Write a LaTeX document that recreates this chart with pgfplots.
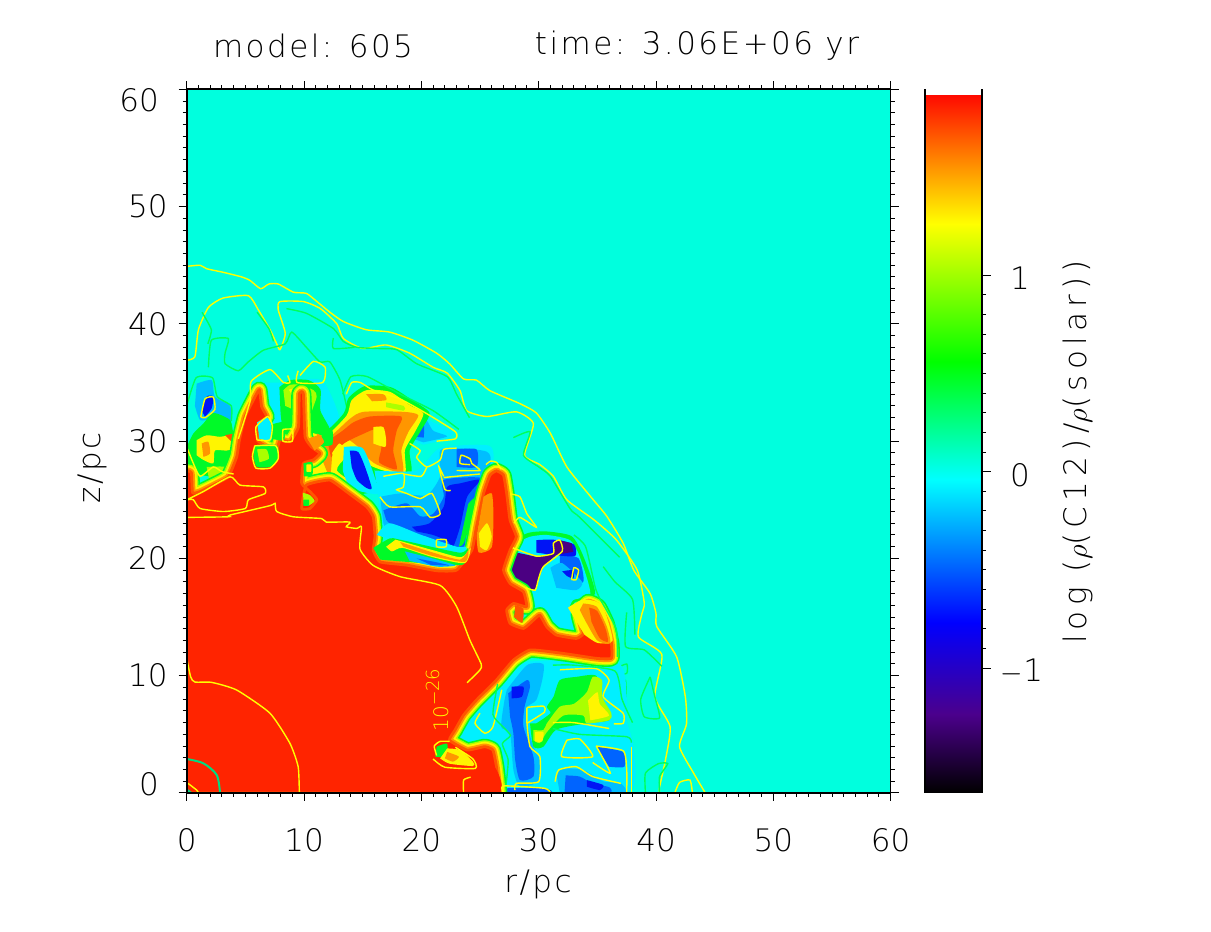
\documentclass[border=0pt]{standalone}
\usepackage{fontspec}
\setmainfont{DejaVu Sans ExtraLight}
\newfontfamily\spaced[LetterSpace=8]{DejaVu Sans ExtraLight}
\newfontfamily\spacedb[LetterSpace=17]{DejaVu Sans ExtraLight}
\usepackage{pgfplots}
\pgfplotsset{compat=1.18}

\definecolor{bgc}{RGB}{0,255,222}
\definecolor{cya}{RGB}{0,240,255}
\definecolor{sky}{RGB}{0,190,255}
\definecolor{mid}{RGB}{0,100,255}
\definecolor{blu}{RGB}{0,20,245}
\definecolor{pur}{RGB}{75,0,130}
\definecolor{grn}{RGB}{0,250,40}
\definecolor{lim}{RGB}{170,255,0}
\definecolor{yel}{RGB}{255,245,0}
\definecolor{org}{RGB}{255,150,0}
\definecolor{dor}{RGB}{255,85,0}
\definecolor{cor}{RGB}{255,36,0}
\definecolor{cy}{RGB}{255,255,0}
\definecolor{cg}{RGB}{0,255,90}
\definecolor{ct}{RGB}{0,220,130}

% red core outline, r and z in pc
\pgfplotstableread{
r z
0 0
0 25.0
0 27.4
0.4 27.3
0.5 25.6
1.14 25.7
2.27 26.25
3.55 26.96
4.26 28.66
4.49 30.08
4.97 32.07
5.68 33.5
6.19 34.4
6.39 32.93
6.82 32.07
6.11 31.5
6.02 30.08
6.82 29.5
7.6 28.95
7.39 28.1
7.95 30.08
8.8 29.94
9.52 31.2
9.6 34.06
9.94 34.06
10.09 30.37
10.65 29.5
11.36 28.95
10.8 28.4
9.94 28.1
9.8 26.4
10.5 25.7
11.1 25
10.5 24.26
9.8 24.26
10.2 26.25
12.2 26.68
13.64 25.68
15.34 24.4
15.9 23.55
16.05 21.85
15.9 20.7
16.48 19.7
18.75 19.43
21.3 18.95
23 19
24.3 20.7
24.7 22.7
25.3 25.54
25.85 27.1
26.4 27.47
27 27.1
27.27 25.54
27.56 23.27
28.1 21.85
27.56 20.7
27 19
27.56 17.87
28.7 17.16
28.98 15.88
27.86 16.16
27.27 15.6
27.56 14.46
28.7 14.03
29.55 14.74
30.1 15.17
30.68 14.18
31.5 13.47
33.2 13.18
33.8 13.6
33.4 15.3
34.2 16.3
35.1 15.88
35.8 14.46
36.2 12.76
36.2 11.48
34.9 11.48
32.1 11.9
29.3 12.2
27.84 11.33
26.4 9.63
24.7 7.93
23.6 6.65
22.87 5.37
22.4 4.5
23.9 3.66
25.4 3.95
26.1 3.66
26.4 2.24
26.65 0
}\corepts

\newcommand{\patch}[2]{\addplot[fill=#1,draw=none,smooth,tension=0.4] coordinates {#2};}
\newcommand{\cont}[2]{\addplot[draw=#1,line width=0.7pt,smooth,tension=0.35] coordinates {#2};}

\begin{document}
\begin{tikzpicture}[x=1pt,y=1pt]
\path (0,0) rectangle (605.5,466);

\begin{axis}[
  at={(93.35pt,69.5pt)}, anchor=south west,
  scale only axis, width=352pt, height=351.85pt,
  xmin=0, xmax=60, ymin=0, ymax=60,
  xtick={0,10,...,60}, ytick={0,10,...,60},
  xticklabels={0,10,20,30,40,50,60},
  yticklabels={,10,20,30,40,50,},
  minor x tick num=9, minor y tick num=9,
  tick align=outside, major tick length=4pt, minor tick length=2pt,
  tick style={black,line width=0.5pt},
  xtick pos=both, ytick pos=both,
  xticklabel pos=bottom, yticklabel pos=left,
  axis line style={line width=0.8pt},
  axis on top,
  tick label style={font=\fontsize{15.5}{16}\selectfont},
  xticklabel style={yshift=-10pt},
  yticklabel style={xshift=-2pt},
  axis background/.style={fill=bgc},
]

% outer contours
\cont{cy}{(0,44.9)(1.14,45)(1.7,44.7)(3.1,44.4)(4.7,44)(5.4,43.7)(6.3,43)(7,43.4)(7.8,43.4)(9.1,42.7)(10.2,42.6)(11.1,41.9)(12.2,41)(13.35,40.2)(15.3,39.5)(17.3,39.3)(19.3,38.6)(21.3,37.5)(22.4,36.6)(23.6,35.3)(24.7,35.2)(25.85,34.3)(28.4,33.2)(29.8,32.4)(31,30.66)(32.4,27.8)(34.4,25.3)(35.8,23.6)(37.2,21.3)(38.1,19)(39.5,17)(40,15.3)(40.06,14.2)(41.76,11.6)(42.5,8.2)(42.6,5.9)(42,3.95)(43.2,1.7)(44.2,0)}
\cont{cy}{(0,36.9)(0.7,37.2)(1,39.5)(1.85,41.4)(3.1,42.2)(5.26,42.4)(6.1,41.2)(7.1,39.5)(7.67,38.3)(7.95,37.8)(8.4,39.2)(7.8,41.2)(7.95,41.9)(9.94,41.9)(11.4,41.3)(12.8,40)(13.35,38.75)(15,37.9)(17,38.2)(19,37.5)(21,36.3)(22.2,35.8)(23.3,34.3)(23.86,32.6)(25.6,32.1)(28.1,32.5)(29.55,31.5)(28.8,28.8)(30.1,28)(31.25,27)(32.4,25)(34.7,23.3)(36.6,21.6)(38.4,19)(39,16.2)(38.8,15.3)(38.5,13.3)(40.5,11.8)(39.9,8.2)(41.2,5.65)(40.8,2.8)(40.3,0.5)(40.3,0)}
\cont{cy}{(41.6,0)(42,0.9)(42.9,1.1)(43.1,0)}
\cont{cg}{(1.85,36.3)(2.1,38.6)(3.55,38.75)(3.27,37.5)(3.27,36.6)(4.4,36)(5.25,36.76)(6.53,37.75)(8.4,38.3)(8.95,39.3)(10.2,38)(11.36,36.76)(12.2,36.76)(13.07,35.2)(13.64,32.9)}
\cont{cg}{(8.5,41.3)(10.2,40.9)(12.5,39.6)(13.35,38.5)(14.5,38)(16.2,37.9)(17.9,37.8)(19.6,36.6)(22.2,35.5)(23,34)(24.1,32)}
\cont{cg}{(1.3,41)(2.1,39.5)(1.8,38.3)}
\cont{cg}{(6,41)(7,39.6)(7.4,38.5)}
\cont{cg}{(12.5,38.8)(12.5,37.9)(14.3,38)}
\cont{cg}{(27.84,30.3)(29.26,30.8)(28.7,28.8)(30,27.8)(31,27)(32.7,24.2)(33.5,23.5)(36.9,20.1)}
\cont{cg}{(35.5,19.3)(36.5,18)(38,16.5)(38.2,13.5)}
\cont{cg}{(37.5,15.4)(37.4,12.5)(39,12.2)(40.5,10.8)}
\cont{cg}{(39.5,9.9)(38.7,8)(39,6.5)(40.3,6.4)(39.9,8.2)(39.5,9.9)}
\cont{cg}{(39.1,0)(39.1,1.7)(40.2,2.5)(41,2.5)(40.3,1.4)(40.3,0)}
\cont{cg}{(36.5,10.6)(37.5,11)(37.5,10.2)(36.5,10.1)(36.5,10.6)}
\cont{cg}{(36.7,9.6)(37.4,9.6)(37.4,8)(36.7,8.2)(36.7,9.6)}

% disturbed shell, upper left
\patch{cya}{(8.3,35)(11.5,35.2)(13,32)(12,30.6)(10,30)(8,31)(6.5,33)(6.5,35)}
\patch{sky}{(.85,34.9)(2.13,35.2)(2.4,33.8)(3.7,33)(3.7,31.5)(2.84,30.9)(1.99,31.8)(1.14,31.8)(0.7,33)}
\patch{blu}{(1.28,32.6)(1.7,33.8)(2.27,33.8)(2.13,32.8)(1.56,32.07)}
\patch{grn}{(0,29.5)(.57,30.65)(1.42,31.5)(2.27,32.4)(3.7,31.8)(4,30.65)(4.55,31.2)(4.83,28.1)(4,27.2)(2.27,26.96)(.57,27.24)(0,27.24)}
\patch{yel}{(0.85,30.08)(1.7,30.5)(2.84,30.37)(3.97,30.5)(4.26,29.5)(3.4,29.2)(2.4,29.2)(2.27,28.1)(1.42,28.4)(.85,28.8)}
\patch{org}{(1.28,29.8)(1.85,29.94)(1.99,28.95)(1.42,28.66)}
\patch{dor}{(3.27,30.5)(4.26,30.65)(4.4,30.08)(3.84,29.94)}
\patch{lim}{(1.7,27.8)(3.4,27.8)(3.4,27)(1.9,26.8)}
\patch{grn}{(7.9,34.6)(8.8,35.2)(10.4,35.2)(11.4,34.4)(11.4,32.6)(12.3,30.6)(10.5,29)(8.4,30.4)(8,32.4)}
\patch{lim}{(8.24,34.35)(8.8,34.8)(9.66,34.8)(10.8,34.35)(11.08,33.8)(10.5,32.07)(10.2,30.4)(9.52,31.2)(9.1,32.6)(8.4,33)}
\patch{yel}{(8.7,34.4)(9.9,34.6)(10.4,34)(10.2,32.5)(9.4,33.2)}

% orange blob
\patch{cya}{(19,30.2)(20.17,32.07)(21,31.6)(22.7,30.8)(22.2,30.2)(20.17,29.7)}
\patch{sky}{(19,30.3)(20.17,32.07)(21,30.9)(22.2,30.4)(20.17,29.9)}
\patch{mid}{(19.3,30.4)(20.2,31.4)(20.2,30.3)}
\patch{grn}{(10,30.6)(11.9,30.9)(13.4,32.4)(13.8,33.7)(15.2,34.7)(17.4,34.6)(19.2,33.5)(20.7,32.4)(19.9,30.8)(19,29.2)(19,27)(15,25.5)(10,26)}
\patch{yel}{(10.5,30.8)(11.9,30.5)(13.64,32.2)(14.06,33.5)(15.34,34.35)(17.33,34.2)(19,33.07)(20.17,32.36)(19.46,30.8)(18.6,29.23)(18.6,27.24)(16.76,27.5)(15.34,28.1)(14.77,29.2)(13.64,28.66)(12.8,27.5)(14.5,26)(9.94,26.4)(9.94,29.2)}
\patch{org}{(11.08,30.65)(12.2,30.4)(13.9,31.9)(15.06,32.5)(18.47,32.5)(19.74,32.2)(18.9,30.8)(18.3,29.23)(18.4,27.3)(16.2,28)(15.34,28.66)(14.63,29.5)(13.35,30.37)(12.5,29.5)(12.2,27)(11.36,28.95)}
\patch{org}{(15.3,34)(16.76,34)(17,33.5)(15.8,33.4)}
\patch{lim}{(17,33.3)(18.5,33)(18.5,32.6)(17,32.9)}
\patch{dor}{(12,30)(13.3,30.9)(14.2,31.6)(15.6,32.1)(18.3,32.1)(17.9,30.9)(17.6,29.2)(17.9,27.6)(16.4,28.2)(16.6,29.5)(16.2,31)(15,30.6)(13.4,29.8)(12.3,28.6)}
\patch{yel}{(15.9,31.2)(16.76,31.2)(17,30.1)(16.9,29.5)(15.9,29.8)}
\patch{yel}{(12.5,27.5)(13.4,29.2)(13.0,29.8)(12.4,29)}
\patch{cya}{(13.4,29.5)(15.0,29.4)(16,27)(16.3,25.5)(14,26)(13.3,27.5)}
\patch{blu}{(13.9,29.2)(14.63,29.07)(15.2,27.8)(15.77,26)(15.34,26)(14.5,26.7)(14.06,27.8)}

% big blue pocket
\patch{cya}{(16,27.5)(19.6,27.5)(21.6,29.4)(25.8,29.6)(26,27.5)(24,22)(17,22)(16.4,25)}
\patch{sky}{(16.48,25.25)(18.18,25.54)(20.46,25.4)(21.6,27)(21.6,29.2)(23,29.4)(25.57,29.1)(25.85,27.8)(24.3,21)(22.7,20.6)(19.9,21.56)(18.2,21.3)(17.3,21.85)(16.76,23)}
\patch{mid}{(16.76,24.1)(18.75,24.7)(19.9,23.6)(21,23.8)(21.9,25.25)(21.9,26.7)(25.3,26.8)(24.15,24.4)(23.6,20.7)(22.7,20.7)(20.46,21.85)(19,22.1)(17.6,22.7)(17,23.3)}
\patch{blu}{(19.2,22.7)(20.7,23)(21.9,24.4)(22.2,26.1)(23.3,26.4)(25,26.7)(23.9,25.25)(23.3,22.7)(22.7,21)(22.2,21.5)(21,22)(19.6,22.3)}
\patch{mid}{(23,29.3)(24.7,29.3)(24.7,27.8)(23,27.8)}
\patch{grn}{(24,24.66)(24.7,25.25)(24.3,23.3)(23.6,21.3)(23.2,21)}

% purple pocket, right of the spike
\patch{grn}{(27.8,21.6)(29.2,22.2)(30.7,22.3)(32.8,21.9)(33.8,20.2)(34.8,17)(33,16.2)(33,15)(30,14.5)(28.7,17)}
\patch{cya}{(28.1,21.3)(29.26,21.85)(30.7,22)(32.67,21.56)(33.5,20.14)(34.4,17)(32.95,16.45)(32.67,15.6)(33.8,13.9)(31.5,13.6)(30.1,15.3)(28.98,16.45)(28.7,17.6)}
\patch{mid}{(31.8,20.3)(33.4,20)(33.8,18)(32.2,18)(31.8,19.4)}
\patch{sky}{(31,19.2)(32,19.6)(33.7,18)(33.2,17.3)(31.5,17.5)}
\patch{blu}{(29.8,21.56)(31.25,21.6)(33,21.2)(33.1,20.2)(31.25,20.3)(29.8,20.5)}
\patch{blu}{(32,18.9)(32.95,19)(32.95,18.3)(32.4,18.5)}
\addplot[fill=pur,draw=none] coordinates {(27.8,20.57)(29.8,20.14)(31.25,20.43)(31.25,21.3)(31.8,21.56)(32.8,21.3)(32.95,20.57)(31.5,20.3)(30.4,19.3)(30,18.3)(29.7,17.3)(28.7,17.6)(27.4,18.3)(27.3,19)};

% lower right pocket
\patch{cya}{(25,8.5)(27.3,10.5)(29,11.2)(36.64,11.2)(37.5,8.2)(37.5,6.2)(38.07,3.95)(37.5,0)(26.56,0)(26.1,3.66)(23.6,3.95)(22.87,5.1)}
\patch{sky}{(27.28,8.8)(29,10.9)(30.4,11)(30.3,9.63)(29.8,7.93)(29,7.3)(29,5.9)(29.55,3.95)(30.1,2.8)(30,1)(28.4,.54)(27.84,2)(27.56,5.1)(26.8,5.65)(27.1,8)}
\patch{mid}{(27.4,8.5)(29,9.63)(29.26,9.06)(28.8,7.36)(28.7,5.65)(29.55,3.1)(29.55,1.4)(28.4,1.1)(28,2.8)(27.84,5.1)(27.56,6.5)}
\patch{blu}{(27.7,9.06)(28.7,9.06)(28.56,8.2)(27.7,8.07)}
\patch{grn}{(29.26,5.94)(29.55,3.95)(30.4,3.95)(31.5,5.4)(34.1,5.94)(36,6.2)(36,7.08)(35.2,8.2)(34.9,10)(33.2,9.9)(31.8,9.63)(31.26,8.2)(30.7,7.36)(31,6.8)(29.8,5.94)}
\patch{lim}{(29.55,5.37)(30.4,5.37)(30.7,5.94)(31.8,7.36)(33,7.6)(34.1,8.6)(34.6,9.9)(35.4,9.63)(35.4,8.2)(36.2,6.8)(36,6.2)(34.1,5.94)(33.8,6.6)(32.1,6.6)(30.7,5.2)(30.1,4.26)(29.55,4.5)}
\patch{yel}{(34.2,7.9)(35,8.6)(35.2,7.6)(36,6.6)(34.4,6.2)}
\patch{yel}{(29.7,5.2)(30.4,5.2)(30.3,4.4)(29.7,4.4)}
\patch{sky}{(31.5,1.68)(32.1,2.1)(33.8,1.96)(35.5,1)(37,.82)(37.2,0)(31.8,0)}
\patch{mid}{(32.3,1.5)(33.5,1.4)(34.6,.8)(36,.5)(36,0)(32.2,0)}
\patch{blu}{(34.1,1.1)(35.5,.68)(35.2,.25)(34.1,.54)}
\patch{mid}{(34.9,3.95)(37.2,3.5)(37.3,2.24)(36,2.24)}
\patch{mid}{(27,.4)(30.5,.4)(31,0)(26.9,0)}

% red core, soft edge made of stacked outlines
\addplot[draw=grn,line width=8pt,line join=round,smooth,tension=0.25] table[x=r,y=z] {\corepts} --cycle;
\addplot[draw=lim,line width=6.4pt,line join=round,smooth,tension=0.25] table[x=r,y=z] {\corepts} --cycle;
\addplot[draw=yel,line width=5pt,line join=round,smooth,tension=0.25] table[x=r,y=z] {\corepts} --cycle;
\addplot[draw=org,line width=3.2pt,line join=round,smooth,tension=0.25] table[x=r,y=z] {\corepts} --cycle;
\addplot[fill=cor,draw=dor,line width=1.4pt,line join=round,smooth,tension=0.25] table[x=r,y=z] {\corepts} --cycle;

% band under the blue pocket
\patch{cya}{(16.2,22)(17.3,23)(20,22)(23,21)(23.8,21)(23.4,20.4)(18,21.4)}
\patch{grn}{(15.9,20.9)(17.3,21.7)(18.18,21.6)(23.2,20.5)(24,20.9)(23.6,19.5)(21.3,19.5)(16.5,19.9)}
\patch{yel}{(17.8,21.6)(21,20.7)(23.4,20.1)(24.2,20.9)(23.7,19.6)(21,20.1)(18.4,20.9)(17.5,20.6)(17,21)}
\patch{org}{(18.18,21.4)(21,20.5)(23.3,19.9)(24,20.7)(23.7,19.7)(21,20.2)(18.47,21)}
\patch{sky}{(18.6,20.6)(21.3,19.9)(22.9,19.4)(21.3,19.3)(19,19.8)}
\patch{mid}{(19.6,20)(21.4,19.65)(22.4,19.4)(20.8,19.45)}

% overlays on the core
\patch{cor}{(23,2.7)(24.5,2.3)(26.2,2.3)(26.6,0)(20,0)(20,5)(22,6)(21,3)}
\patch{grn}{(21.3,3.95)(22.2,4.2)(22.1,3.1)(21.2,3.1)}
\patch{yel}{(22.2,3.8)(23.3,3.66)(24.4,2.67)(24.4,2.3)(22.4,2.5)(21.6,2.95)}
\patch{org}{(22.2,3.5)(23.2,3.1)(22.7,2.67)(22,2.95)}
\patch{org}{(25.3,25.25)(26,25.54)(26.14,23.8)(26,20.96)(24.9,20.5)(24.7,21.9)}
\patch{yel}{(24.9,22.13)(25.6,23)(26,21.85)(25.57,20.7)(25,21)}
\patch{yel}{(32.5,15.8)(33.8,16.5)(35.4,16)(36.3,13)(35,12.8)(33.9,13.5)}
\patch{org}{(33.8,16.16)(34.95,15.88)(35.8,14.2)(36.1,12.76)(35,13)(34.1,14.46)(33.5,15.6)}
\patch{dor}{(34.3,15.8)(35,15.5)(35.7,14)(35.9,12.9)(35.2,13.2)(34.5,14.6)}
\patch{lim}{(9.9,25.6)(10.5,25.4)(10.9,24.9)(10.4,24.5)(10,24.5)}
\patch{grn}{(9.95,25)(10.4,25)(10.4,24.5)(9.95,24.5)}
\patch{grn}{(9.95,28.1)(10.7,28.2)(10.7,27.1)(10,27)}
\patch{yel}{(10.2,28)(10.6,28)(10.6,27.4)(10.2,27.4)}
\patch{grn}{(11.5,31)(12.4,31)(12.4,29.7)(11.5,29.6)}
\patch{org}{(10.3,30.2)(11.3,30.5)(11.7,29.9)(10.9,29.2)}
\patch{dor}{(28,16)(28.7,15.7)(28.6,14.5)(27.9,15)}
\patch{cya}{(6,31.6)(6.9,32)(7.3,31)(7.1,30.1)(6.2,30.2)}
\patch{grn}{(5.8,29.66)(7.67,29.66)(7.8,28.5)(7.1,27.8)(5.97,27.8)(5.68,28.66)}
\patch{lim}{(6,29.3)(6.8,29.3)(7,28.5)(6.2,28.2)}
\patch{grn}{(7.2,31.4)(8.3,31.6)(8.3,30.1)(7.3,30.2)}

% contours over the field
\cont{cy}{(0,23.5)(3.55,23.55)(3.7,23.7)(7.1,24.5)(7.53,24.7)(7.67,24)(9.1,23.55)(11.5,23.4)(11.9,23.1)(13.9,23.1)(13.6,22.7)(14.5,22.56)(14.9,22.7)(14.77,20.8)(15.9,19.4)(18.2,18.44)(21.6,17.7)(23,15.9)(24.15,13)(25.1,11)(25,10.5)(23.9,9.4)}
\cont{cy}{(0,25)(1.42,25.7)(3.7,26.96)(4.55,26.25)(6.53,26.1)(6.68,25.54)(5.26,25)(5,24.26)(3.13,24)(1.14,24.26)(.57,25)(0,25)}
\cont{cy}{(0,11.5)(.34,9.9)(.7,9.46)(2.13,9.43)(4.26,8.78)(7.1,6.8)(8.8,4.23)(9.5,2.24)(9.6,0)}
\cont{cy}{(0,.9)(.85,.25)(1,0)}
\addplot[draw=ct,line width=1pt,smooth] coordinates {(0,2.9)(1.42,2.53)(2.56,1.53)(2.84,0)};
\addplot[draw=ct,line width=1pt] coordinates {(0,.3)(.4,0)};
\cont{cy}{(23.6,0)(23.6,1.1)(24.2,1.35)}
\cont{cy}{(21.3,3.2)(21.1,4)(21.6,4.4)(22.4,4.4)}
\cont{cy}{(21,2.9)(22,2.2)(24.6,2.1)(24.4,2.9)(22.9,3.9)}
\cont{cy}{(1.2,32.07)(1.56,33.6)(2.27,33.75)(2.4,32.7)(1.56,32)(1.2,32.07)}
\cont{cg}{(0,33)(.8,35.4)(2.2,35.4)(2.6,33.8)(3.8,33)(3.8,31.7)}
\cont{cy}{(0,29.5)(.57,28.1)(1.14,27)(2.27,27.8)(3,27.4)(4,27.2)}
\cont{cy}{(4.4,30.2)(5.4,33.4)(5.5,35.1)(7.1,36.1)(8.24,35)(8.8,35)(8.6,35.6)}
\cont{cy}{(9.66,35.6)(10.8,36.8)(11.8,36.3)(11.6,35)(9.4,35)(9.5,36)}
\cont{cy}{(6,30.1)(5.9,31.2)(6.9,32.1)(7.3,31.3)(7.1,30.1)(6,30.1)}
\cont{cy}{(5.8,29.6)(7.6,29.6)(7.8,28.5)(7.1,27.7)(5.9,27.7)(5.6,28.7)(5.8,29.6)}
\cont{cy}{(8.2,31)(9,31)(9,30)(8.2,30)(8.2,31)}
\cont{cy}{(13.6,34)(14.06,35)(14.8,35)(15.9,34.35)(18.18,33.6)(20.7,32.2)(22.9,30.8)(22.9,30.2)(21.3,30)}
\cont{cg}{(13.3,34)(14,35.5)(15.4,35.5)(18.2,34)(21,32.6)(23.2,31)}
\cont{cy}{(16.76,27)(18.47,27.24)(18.47,26.1)(17.9,25.85)(18.75,25.54)(19.9,25.1)(20.9,25.54)(21.6,23.8)(20.75,23.5)(19.9,24.4)(17.3,24.4)(16.48,25.25)}
\cont{cy}{(19,29.8)(19.9,29.2)(19.6,28.6)(20.46,27.8)(21.6,28.4)(21.9,29.3)(23,29.4)}
\cont{cy}{(20.46,27.8)(20,27)(18.5,27.2)}
\cont{cy}{(23,27.5)(24.99,27.5)(24.3,28.1)(24.15,28.5)(23.4,28.8)(23.3,28.1)(24.15,28)}
\cont{cy}{(21.9,26.9)(25,27.2)}
\cont{cy}{(21.9,27)(21.5,27.8)(22,25.9)(22.5,25.8)}
\cont{cy}{(25.5,28)(25.9,28.3)(26.4,28.2)(26.8,27.6)}
\cont{cy}{(21.3,21.6)(22.1,21.6)(22.1,21)(21.3,21)(21.3,21.6)}
\cont{cy}{(27.56,25.5)(28.4,25.25)(29,23.8)(29.8,22.66)(28.4,23.5)(27.9,23)}
\cont{cy}{(27.8,20.9)(29.8,20.2)(31.25,20.43)(31.25,21.3)(31.8,21.56)(32,20.6)(30.4,19.3)(30,18.3)(29.7,17.3)(28.9,17.5)}
\cont{cy}{(32.8,18.2)(33.2,18.2)(33.4,19)(33,19.2)(32.8,18.2)}
\cont{cg}{(33,22)(34,21)(34.8,17.6)(35.2,16.6)(36.6,14)(36.7,11.6)}
\cont{cy}{(29,7.3)(29,5.94)(29.26,3.95)(30.1,3.1)(30,.97)(28.1,.82)(27.97,.25)}
\cont{cy}{(29,7.3)(30.4,7.4)(30.5,6.9)(29,5.94)}
\cont{cy}{(25,6.8)(24.57,5.94)(25.4,5.1)(26.1,5.65)(26.85,8.8)}
\cont{cg}{(26.5,9.3)(26.1,6.7)(26.9,5.7)(27.6,4.9)(26.9,4.2)(27.4,2.8)(27.2,.6)}
\cont{cy}{(31.8,10.5)(34.9,10.6)(36,9.63)(35.5,8.2)(37.2,6.8)(37.2,5.94)(36.4,5.9)}
\cont{cg}{(31.2,10.9)(33,10.9)(36.5,10.4)(37.1,8)(38,6)}
\cont{cy}{(31.2,6)(33,6)(36,5.5)}
\cont{cg}{(31.2,5.5)(33.5,5)(37.5,4.8)(37.9,4.3)}
\cont{cy}{(32.4,4.5)(33.5,4.6)(34.6,3.1)(31.97,3.1)(32.4,4.5)}
\cont{cy}{(34.9,4)(37.2,3.6)(37.5,2)(37.5,0)}
\cont{cy}{(34.9,4)(36.1,1.7)(34.6,2.6)}
\cont{cy}{(37.9,3.95)(37.9,0)}
\cont{cy}{(31.4,.97)(31.7,1.96)(33.2,2.24)(34.6,1.4)(37,.82)}
\cont{cy}{(27,0)(27,.6)(30.5,.4)(31,0)}
\end{axis}

\begin{axis}[
  at={(462.5pt,69.5pt)}, anchor=south west,
  scale only axis, width=28.5pt, height=351.85pt,
  xmin=0, xmax=1, ymin=-1.636, ymax=1.947,
  xtick=\empty, ytick={-1,0,1}, yticklabels={,,},
  minor y tick num=9,
  tick align=outside, major tick length=4.3pt, minor tick length=2pt,
  tick style={black,line width=0.5pt},
  ytick pos=right,
  separate axis lines,
  x axis line style={draw=none},
  y axis line style={line width=0.6pt},
  axis on top,
  colormap={idl}{rgb255(0)=(0,0,0); rgb255(40)=(75,0,140); rgb255(87)=(0,0,255); rgb255(160)=(0,255,255); rgb255(220)=(0,255,0); rgb255(290)=(255,255,0); rgb255(356)=(255,10,0)},
  point meta min=-1.636, point meta max=1.92,
]
\addplot[surf, shader=interp, mesh/cols=2, point meta=y] table[x=a,y=b] {
a b
0 -1.636
1 -1.636
0 -1.24
1 -1.24
0 -0.77
1 -0.77
0 -0.04
1 -0.04
0 0.56
1 0.56
0 1.26
1 1.26
0 1.92
1 1.92
};
\end{axis}

% text
\node[font=\fontsize{15.5}{16}\spaced] at (156.5,443) {model: 605};
\node[font=\fontsize{15.5}{16}\spaced] at (348.5,443) {time: 3.06E+06 yr};
\node[font=\fontsize{15.5}{16}\spaced] at (269,24) {r/pc};
\node[font=\fontsize{15.5}{16}\spaced,rotate=90] at (46,232) {z/pc};
\node[font=\fontsize{15.5}{16}\selectfont,anchor=east] at (83,416) {60};
\node[font=\fontsize{15.5}{16}\selectfont,anchor=east] at (83,74) {0};
\node[font=\fontsize{15.5}{16}\selectfont] at (510,327) {1};
\node[font=\fontsize{15.5}{16}\selectfont] at (510,228.5) {0};
\node[font=\fontsize{15.5}{16}\selectfont] at (511,130.5) {$-$1};
\node[font=\fontsize{15.5}{16}\spacedb,rotate=90] at (539,240) {log ($\rho$(C12)/$\rho$(solar))};
\node[font=\fontsize{10}{11}\selectfont,text=cy,rotate=90] at (218.5,116) {10\raisebox{4.5pt}{\fontsize{9}{10}\selectfont$-$26}};
\end{tikzpicture}
\end{document}
